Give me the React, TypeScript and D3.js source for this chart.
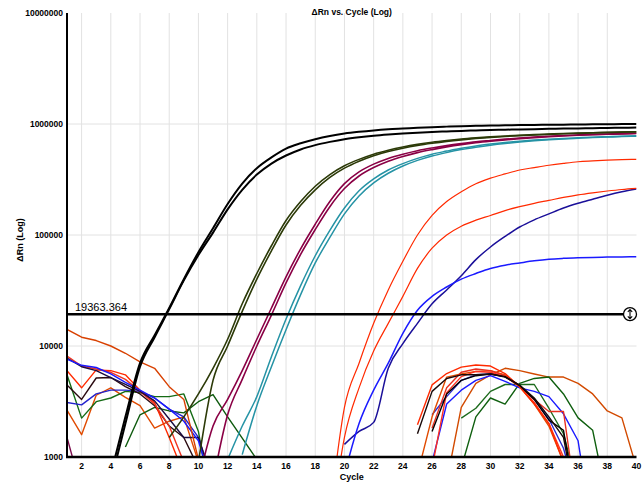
import React from "react";
import * as d3 from "d3";

// x axis categories and ticks
const cycles = [1, 2, 3, 4, 5, 6, 7, 8, 9, 10, 11, 12, 13, 14, 15, 16, 17, 18, 19, 20,
  21, 22, 23, 24, 25, 26, 27, 28, 29, 30, 31, 32, 33, 34, 35, 36, 37, 38, 39, 40];
const xTicks = [2, 4, 6, 8, 10, 12, 14, 16, 18, 20, 22, 24, 26, 28, 30, 32, 34, 36, 38, 40];
const yTicks = [1000, 10000, 100000, 1000000, 10000000];
const threshold = 19363.364;

// amplification curves (values from their start cycle on)
const black1 = [700, 2300, 7000, 12500, 22000, 40000, 70000, 115000, 190000, 290000, 400000, 500000, 600000, 670000, 730000, 780000, 820000, 850000, 875000, 895000, 910000, 925000, 937000, 947000, 955000, 962000, 968000, 973000, 977000, 981000, 984000, 987000, 990000, 993000, 995000, 998000, 1000000];
const black2 = [600, 2000, 6500, 12000, 21500, 39000, 66000, 105000, 170000, 255000, 350000, 440000, 520000, 590000, 645000, 690000, 730000, 760000, 785000, 805000, 822000, 836000, 848000, 858000, 867000, 875000, 882000, 888000, 894000, 899000, 904000, 909000, 913000, 917000, 921000, 925000, 930000];
const olive1 = [1500, 2300, 3700, 6300, 11500, 24000, 45000, 80000, 135000, 200000, 275000, 350000, 420000, 480000, 535000, 580000, 620000, 655000, 685000, 710000, 732000, 750000, 766000, 780000, 792000, 803000, 812000, 820000, 828000, 835000, 841000, 847000, 852000];
const olive2 = [900, 4900, 10000, 20500, 40000, 72000, 123000, 185000, 255000, 330000, 400000, 462000, 518000, 565000, 605000, 640000, 670000, 697000, 720000, 740000, 757000, 772000, 785000, 797000, 807000, 816000, 824000, 832000, 839000, 845000, 850000];
const maroon1 = [600, 1900, 3300, 6000, 11500, 22000, 42000, 75000, 125000, 200000, 290000, 370000, 435000, 490000, 535000, 575000, 608000, 638000, 665000, 690000, 710000, 730000, 748000, 763000, 776000, 788000, 798000, 806000, 813000, 819000, 825000];
const maroon2 = [600, 2400, 5000, 10000, 19000, 37000, 67000, 112000, 180000, 262000, 340000, 405000, 462000, 510000, 552000, 588000, 622000, 652000, 678000, 700000, 720000, 738000, 754000, 768000, 780000, 791000, 800000, 808000, 815000, 820000];
const teal1 = [950, 1900, 3500, 8000, 17500, 35000, 65000, 110000, 175000, 250000, 320000, 385000, 440000, 490000, 535000, 570000, 605000, 635000, 660000, 682000, 700000, 716000, 730000, 742000, 752000, 761000, 769000, 776000, 782000];
const teal2 = [1050, 2900, 6500, 14000, 29000, 56000, 95000, 155000, 225000, 295000, 360000, 418000, 470000, 515000, 553000, 588000, 618000, 645000, 668000, 688000, 705000, 720000, 733000, 744000, 754000, 762000, 770000, 776000];
const red1 = [300, 2800, 7000, 16000, 32000, 58000, 100000, 150000, 200000, 245000, 290000, 325000, 355000, 385000, 405000, 425000, 442000, 457000, 465000, 472000, 477000, 480000];
const red2 = [200, 1500, 4200, 9000, 16000, 28000, 50000, 76000, 100000, 120000, 136000, 150000, 166000, 180000, 193000, 205000, 218000, 230000, 240000, 249000, 257000, 263000];
const blue1 = [700, 2000, 4000, 7000, 13000, 21000, 28000, 34000, 40000, 45000, 50000, 53500, 56000, 58500, 60500, 61600, 62300, 62800, 63200, 63500, 63700];
const navy1 = [1300, 1700, 2050, 6300, 10500, 16000, 24000, 32000, 43000, 60000, 78000, 97000, 118000, 137000, 155000, 175000, 193000, 210000, 228000, 245000, 260000];

// baseline noise, early cycles
const nOrange1 = [14100, 12000, 11200, 10000, 8600, 7200, 6300, 4300, 3300, 950, 300];
const nRed1 = [6000, 4200, 6100, 6000, 5500, 4000, 3100, 1500, 700];
const nRed2 = [8100, 6600, 6200, 5800, 5000, 3900, 3000, 1900, 900];
const nNavy = [7800, 6500, 6000, 5200, 4500, 3900, 3200, 2200, 1500, 1500, 600];
const nBlue1 = [7600, 6700, 6400, 5600, 4700, 4000, 3400, 2700, 2100, 1400, 500];
const nBrown = [4450, 3300, 5150, 5200, 4300, 3700, 2900, 1900, 1500, 800];
const nBlue2 = [3100, 2950, 3700, 4000, 4000, 3900, 3400, 2700, 2300, 1500, 600];
const nGreen1 = [5500, 2240, 3150, 3400, 3900, 3800, 3500, 3500, 3700, 1700, 300];
const nGreen2 = [1230, 2400, 2800, 2600, 2500, 3150, 3650, 2300, 1480, 950];
const nOrange2 = [2650, 1590, 3600, 4200, 3450, 2900, 1820, 2100, 2300, 900];
const nMaroon = [1500, 500];

// baseline noise, late cycles
const hRed1 = [1950, 4460, 5650, 6450, 6750, 6600, 5650, 4300, 3000, 2000, 900];
const hBlack1 = [1620, 3900, 5100, 5500, 5500, 5600, 5250, 4450, 3400, 2300, 1500, 300];
const hOrange1 = [700, 2300, 5250, 5600, 5900, 6000, 5500, 4300, 3000, 1900, 900];
const hOrange2 = [600, 2800, 4600, 5500, 6300, 6000, 5600, 5250, 5250, 4600, 3700, 2600, 2250, 800];
const hBlue1 = [900, 3000, 4000, 4900, 5400, 4800, 4200, 3900, 3500, 2450, 1400, 200];
const hBlue2 = [2400, 3500, 4900, 5500, 5600, 5300, 4400, 3300, 2200, 1200, 400];
const hGreen1 = [800, 2300, 3400, 3000, 4600, 5100, 5250, 3700, 2250, 1740, 400];
const hGreen2 = [2240, 2750, 3900, 4500, 4500, 4500, 2750, 1620, 500];
const hRed2 = [1820, 4200, 5800, 6200, 6000, 5400, 4400, 3300, 2570, 2570, 300];
const hBlack2 = [1700, 3700, 4900, 5400, 5600, 5300, 4400, 3300, 2150, 1740, 300];
const hRed3 = [800, 3800, 5300, 5900, 5800, 5300, 4300, 3100, 2000, 1000, 300];

const noise = [
  { start: 1, values: nMaroon, color: "#7a0a4a" },
  { start: 1, values: nOrange2, color: "#e04a00" },
  { start: 1, values: nGreen1, color: "#156b15" },
  { start: 5, values: nGreen2, color: "#0e5a0e" },
  { start: 1, values: nBlue2, color: "#2222cc" },
  { start: 1, values: nBrown, color: "#2a0a10" },
  { start: 1, values: nRed1, color: "#ff2a00" },
  { start: 1, values: nRed2, color: "#ee3322" },
  { start: 1, values: nNavy, color: "#1a0c40" },
  { start: 1, values: nBlue1, color: "#1a1aff" },
  { start: 1, values: nOrange1, color: "#d84000" },
  { start: 27, values: hOrange2, color: "#d24a00" },
  { start: 28, values: hGreen1, color: "#0f5f0f" },
  { start: 28, values: hGreen2, color: "#1d6b1d" },
  { start: 26, values: hBlue1, color: "#1a1aff" },
  { start: 26, values: hBlue2, color: "#2a2ad0" },
  { start: 25, values: hOrange1, color: "#e04a00" },
  { start: 26, values: hRed3, color: "#ff3020" },
  { start: 26, values: hRed2, color: "#e83020" },
  { start: 25, values: hRed1, color: "#ff2a00" },
  { start: 26, values: hBlack2, color: "#000000" },
  { start: 25, values: hBlack1, color: "#1a0a0a" },
];

const amp = [
  { start: 20, values: navy1, color: "#1a0f99", width: 1.5 },
  { start: 20, values: blue1, color: "#1a1aff", width: 1.5 },
  { start: 19, values: red2, color: "#ff2a00", width: 1.2 },
  { start: 19, values: red1, color: "#ff2a00", width: 1.2 },
  { start: 13, values: teal2, color: "#2593a5", width: 1.5 },
  { start: 12, values: teal1, color: "#2593a5", width: 1.5 },
  { start: 11, values: maroon2, color: "#8a0045", width: 1.6 },
  { start: 10, values: maroon1, color: "#8a0045", width: 1.6 },
  { start: 10, values: olive2, color: "#2c3a08", width: 1.6 },
  { start: 8, values: olive1, color: "#2c3a08", width: 1.6 },
  { start: 4, values: black2, color: "#000000", width: 2 },
  { start: 4, values: black1, color: "#000000", width: 2 },
];

function toPoints(start, values) {
  return values.map((v, i) => [cycles[start - 1 + i], v]);
}

function drawChart(svgRef) {
  const w = 644;
  const h = 484;
  const left = 67, right = 636.5, top = 13, bottom = 457;
  const svg = d3.select(svgRef.current);
  svg.selectAll("*").remove();
  svg.attr("width", w).attr("height", h);

  const x = d3.scaleLinear().domain([1, 40]).range([left, right]);
  const y = d3.scaleLog().domain([1000, 10000000]).range([bottom, top]);

  svg.append("defs").append("clipPath").attr("id", "plotclip")
    .append("rect").attr("x", left).attr("y", top)
    .attr("width", right - left).attr("height", bottom - top);

  // grid
  const grid = svg.append("g").attr("stroke", "#e2e2e2").attr("stroke-width", 1);
  grid.selectAll("line.v").data(xTicks.filter(t => t < 40)).join("line")
    .attr("x1", d => x(d)).attr("x2", d => x(d))
    .attr("y1", top).attr("y2", bottom);
  grid.selectAll("line.h").data(yTicks.slice(1, 4)).join("line")
    .attr("x1", left).attr("x2", right)
    .attr("y1", d => y(d)).attr("y2", d => y(d));

  const line = d3.line()
    .x(d => x(d[0]))
    .y(d => y(d[1]));
  // amplification curves are smooth
  const curve = d3.line()
    .x(d => x(d[0]))
    .y(d => y(d[1]))
    .curve(d3.curveMonotoneX);

  const plot = svg.append("g").attr("clip-path", "url(#plotclip)");
  plot.append("g").selectAll("path").data(noise).join("path")
    .attr("fill", "none")
    .attr("stroke", d => d.color)
    .attr("stroke-width", 1.4)
    .attr("stroke-linejoin", "round")
    .attr("d", d => line(toPoints(d.start, d.values)));
  plot.append("g").selectAll("path").data(amp).join("path")
    .attr("fill", "none")
    .attr("stroke", d => d.color)
    .attr("stroke-width", d => d.width)
    .attr("stroke-linejoin", "round")
    .attr("d", d => curve(toPoints(d.start, d.values)));

  // axes
  svg.append("line").attr("x1", left).attr("x2", left).attr("y1", top).attr("y2", bottom + 1)
    .attr("stroke", "#000").attr("stroke-width", 2);
  svg.append("line").attr("x1", left - 1).attr("x2", right).attr("y1", bottom).attr("y2", bottom)
    .attr("stroke", "#000").attr("stroke-width", 2.5);

  const font = "'Liberation Sans', Arial, sans-serif";
  svg.append("g").selectAll("text").data(yTicks).join("text")
    .attr("x", left - 4).attr("y", d => y(d)).attr("dy", "0.35em")
    .attr("text-anchor", "end").attr("font-family", font)
    .attr("font-size", 8.5).attr("font-weight", "bold")
    .text(d => d3.format("d")(d));
  svg.append("g").selectAll("text").data(xTicks).join("text")
    .attr("x", d => x(d)).attr("y", 469)
    .attr("text-anchor", "middle").attr("font-family", font)
    .attr("font-size", 8.5).attr("font-weight", "bold")
    .text(d => d);

  svg.append("text").attr("x", (left + right) / 2).attr("y", 479.5)
    .attr("text-anchor", "middle").attr("font-family", font)
    .attr("font-size", 9).attr("font-weight", "bold").text("Cycle");
  svg.append("text").attr("x", (left + right) / 2).attr("y", 14.5)
    .attr("text-anchor", "middle").attr("font-family", font)
    .attr("font-size", 8.5).attr("font-weight", "bold").text("ΔRn vs. Cycle (Log)");
  svg.append("text").attr("transform", `translate(23,240) rotate(-90)`)
    .attr("text-anchor", "middle").attr("font-family", font)
    .attr("font-size", 9).attr("font-weight", "bold").text("ΔRn (Log)");

  // threshold
  const ty = y(threshold);
  svg.append("line").attr("x1", left).attr("x2", right - 12).attr("y1", ty).attr("y2", ty)
    .attr("stroke", "#000").attr("stroke-width", 2.5);
  svg.append("text").attr("x", left + 8).attr("y", ty - 3)
    .attr("font-family", font).attr("font-size", 11).text(d3.format(".3f")(threshold));
  const knob = svg.append("g").attr("transform", `translate(${right - 6.5},${ty})`);
  knob.append("circle").attr("r", 6.5).attr("fill", "#fff").attr("stroke", "#000").attr("stroke-width", 1.3);
  knob.append("path").attr("d", "M0,-4.5V4.5M-2.2,-2.3L0,-4.5L2.2,-2.3M-2.2,2.3L0,4.5L2.2,2.3")
    .attr("fill", "none").attr("stroke", "#000").attr("stroke-width", 1.1);
}

const App = () => {
  const svg = React.useRef(null);

  React.useEffect(() => {
    drawChart(svg);
  }, [svg]);

  return (
    <div style={{ position: "absolute", left: 0, top: 0 }}>
      <svg ref={svg} style={{ display: "block" }} />
    </div>
  );
};

export default App;
